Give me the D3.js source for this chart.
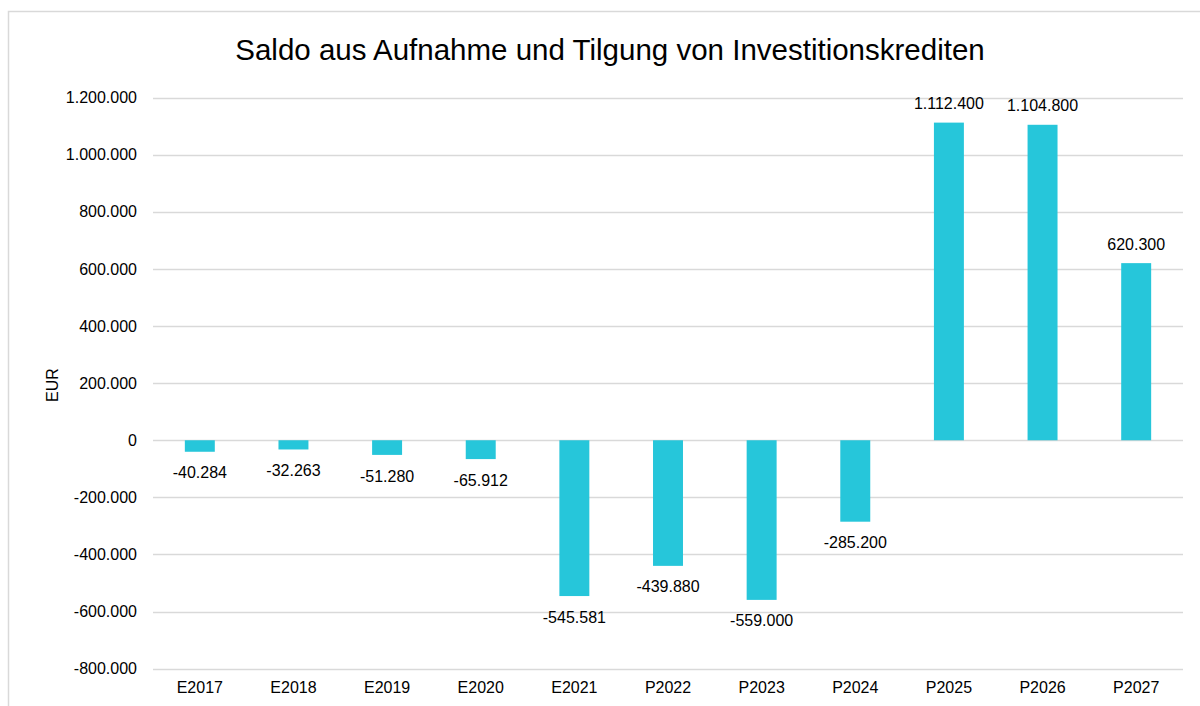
<!DOCTYPE html>
<html><head><meta charset="utf-8">
<script src="https://cdn.jsdelivr.net/npm/d3@7"></script>
<style>body{margin:0;background:#fff;font-family:"Liberation Sans",Arial,sans-serif}</style>
</head><body><svg id="c" width="1200" height="706"></svg>
<script>
const categories=["E2017","E2018","E2019","E2020","E2021","P2022","P2023","P2024","P2025","P2026","P2027"];
const values=[-40284,-32263,-51280,-65912,-545581,-439880,-559000,-285200,1112400,1104800,620300];
const yTicks=[-800000,-600000,-400000,-200000,0,200000,400000,600000,800000,1000000,1200000];
const title="Saldo aus Aufnahme und Tilgung von Investitionskrediten";
const yTitle="EUR";

const svg=d3.select("#c");
const fmt=v=>{const s=d3.format(",")(Math.abs(v)).replace(/,/g,".");return (v<0?"-":"")+s;};
svg.append("rect").attr("x",8.5).attr("y",11.5).attr("width",1250).attr("height",750).attr("fill","#fff").attr("stroke","#d9d9d9").attr("stroke-width",1.5);
const L=153,R=1183;
const x=d3.scaleBand().domain(categories).range([L,R]).paddingInner(0.68).paddingOuter(0.34);
const y=d3.scaleLinear().domain([-800000,1200000]).range([668.7,97.6]);
const g=svg.append("g");
g.selectAll("line.grid").data(yTicks).join("line").attr("class","grid")
 .attr("x1",L).attr("x2",R).attr("y1",d=>Math.round(y(d))+0.5).attr("y2",d=>Math.round(y(d))+0.5)
 .attr("stroke","#d9d9d9").attr("stroke-width",1.5);
const ya=svg.append("g").attr("transform",`translate(${L},0)`).call(d3.axisLeft(y).tickValues(yTicks).tickFormat(fmt).tickSize(0).tickPadding(16));
ya.select(".domain").remove();
ya.selectAll("text").attr("font-size",16).attr("font-family","Liberation Sans, Arial, sans-serif").attr("fill","#000");
g.selectAll("rect.bar").data(values).join("rect").attr("class","bar")
 .attr("x",(d,i)=>x(categories[i])).attr("width",x.bandwidth())
 .attr("y",d=>y(Math.max(0,d))).attr("height",d=>Math.abs(y(d)-y(0)))
 .attr("fill","#26C6DA");
g.selectAll("text.lab").data(values).join("text").attr("class","lab")
 .attr("x",(d,i)=>x(categories[i])+x.bandwidth()/2)
 .attr("y",d=>d<0?y(d)+21:y(d)-19).attr("dy","0.35em")
 .attr("text-anchor","middle").attr("font-size",16).attr("fill","#000").text(fmt);
const xa=svg.append("g").attr("transform",`translate(0,${y(-800000)})`).call(d3.axisBottom(x).tickSize(0).tickPadding(13));
xa.select(".domain").remove();
xa.selectAll("text").attr("font-size",16).attr("font-family","Liberation Sans, Arial, sans-serif").attr("fill","#000");
svg.append("text").attr("x",610).attr("y",50).attr("dy","0.35em").attr("text-anchor","middle").attr("font-size",29.5).attr("fill","#000").text(title);
svg.append("text").attr("transform","translate(52,385) rotate(-90)").attr("dy","0.35em").attr("text-anchor","middle").attr("font-size",16).attr("fill","#000").text(yTitle);
</script></body></html>
